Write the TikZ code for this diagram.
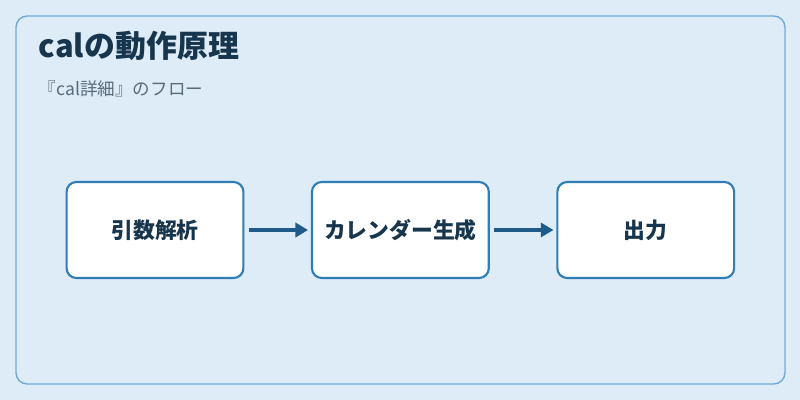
\documentclass[tikz,border=0pt]{standalone}
\usepackage{fontspec}
\setmainfont{Noto Sans CJK JP}
\usetikzlibrary{positioning,arrows.meta}
\definecolor{bgblue}{HTML}{DDECF7}
\definecolor{frameblue}{HTML}{6FAAD6}
\definecolor{boxblue}{HTML}{2E7DB5}
\definecolor{arrowblue}{HTML}{1F5B8A}
\definecolor{titlecol}{HTML}{17364D}
\definecolor{subcol}{HTML}{5A6B78}
\begin{document}
\begin{tikzpicture}[x=0.025cm,y=-0.025cm,
	stepnode/.style={draw=boxblue,line width=1.5pt,fill=white,rounded corners=7pt,minimum width=4.42cm,minimum height=2.4cm,font=\bfseries\fontsize{15.5}{17}\selectfont,text=titlecol},
	flowarrow/.style={draw=arrowblue,line width=2.5pt,-{Triangle[length=9pt,width=10pt]}}]
			\fill[bgblue] (0,0) rectangle (800,400);
			\draw[frameblue,fill=bgblue,line width=1pt,rounded corners=8pt] (16,16) rectangle (785,384);
			\node[anchor=west,font=\bfseries\fontsize{22}{24}\selectfont,text=titlecol]	(title)	at (34,46)	{calの動作原理};
			\node[anchor=west,font=\fontsize{12.5}{14}\selectfont,text=subcol]			(sub)	at (34,89)	{『cal詳細』のフロー};

			\node[stepnode]						(parse)	at (155,230)	{引数解析};
			\node[stepnode,right=1.66cm of parse]	(gen)	{カレンダー生成};
			\node[stepnode,right=1.66cm of gen]	(out)	{出力};

			\draw[flowarrow] ([xshift=3pt]parse.east) -- ([xshift=-2pt]gen.west);
			\draw[flowarrow] ([xshift=3pt]gen.east) -- ([xshift=-2pt]out.west);
		\end{tikzpicture}
\end{document}
